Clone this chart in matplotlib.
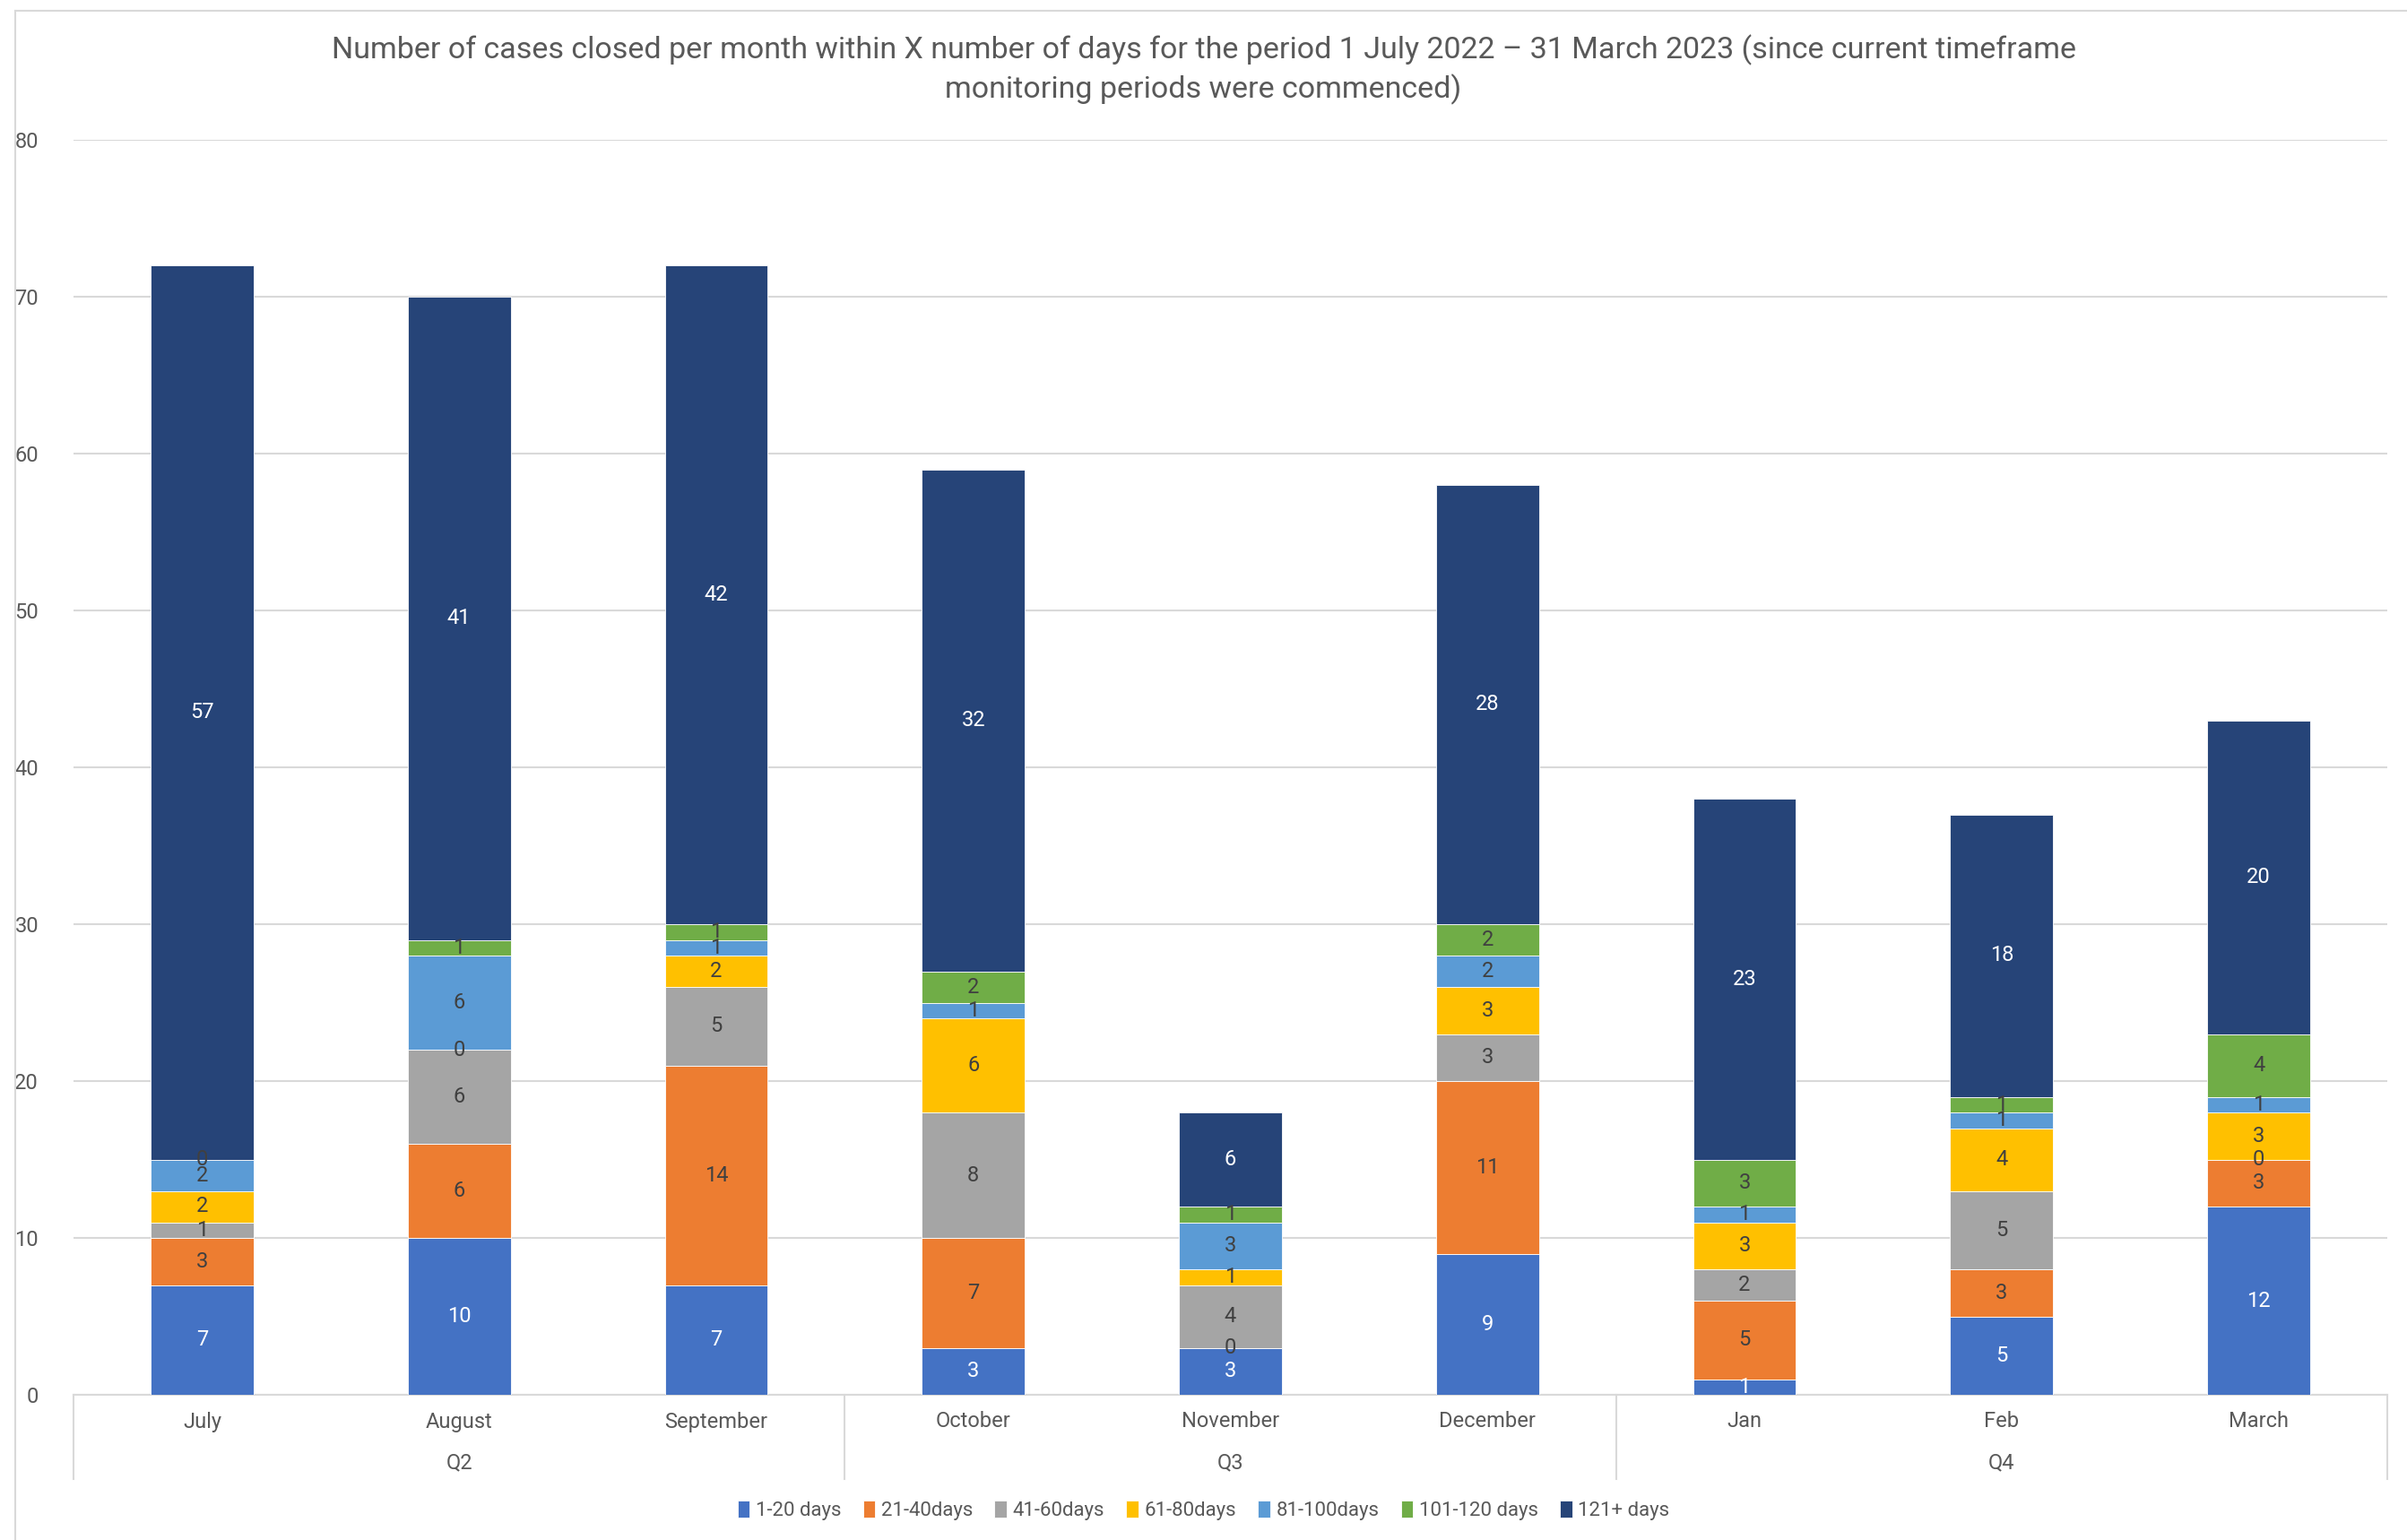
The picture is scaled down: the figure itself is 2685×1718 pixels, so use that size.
import matplotlib
matplotlib.use("Agg")
import matplotlib.pyplot as plt
import matplotlib.transforms as mtransforms
from matplotlib.lines import Line2D
import numpy as np

months = ["July", "August", "September", "October", "November", "December", "Jan", "Feb", "March"]
quarters = ["Q2", "Q3", "Q4"]
series_names = ["1-20 days", "21-40days", "41-60days", "61-80days", "81-100days", "101-120 days", "121+ days"]
d_1_20 = [7, 10, 7, 3, 3, 9, 1, 5, 12]
d_21_40 = [3, 6, 14, 7, 0, 11, 5, 3, 3]
d_41_60 = [1, 6, 5, 8, 4, 3, 2, 5, 0]
d_61_80 = [2, 0, 2, 6, 1, 3, 3, 4, 3]
d_81_100 = [2, 6, 1, 1, 3, 2, 1, 1, 1]
d_101_120 = [0, 1, 1, 2, 1, 2, 3, 1, 4]
d_121 = [57, 41, 42, 32, 6, 28, 23, 18, 20]
title = "Number of cases closed per month within X number of days for the period 1 July 2022 \u2013 31 March 2023 (since current timeframe\nmonitoring periods were commenced)"

colors = ["#4472C4", "#ED7D31", "#A5A5A5", "#FFC000", "#5B9BD5", "#70AD47", "#264478"]
label_colors = ["white", "#404040", "#404040", "#404040", "#404040", "#404040", "white"]
series = [d_1_20, d_21_40, d_41_60, d_61_80, d_81_100, d_101_120, d_121]

plt.rcParams["font.family"] = ["Roboto", "DejaVu Sans"]

W, H = 2685, 1718
fig = plt.figure(figsize=(W / 100, H / 100), dpi=100)
fig.patch.set_facecolor("white")

# outer chart border (left and top)
fig.add_artist(Line2D([17 / W, 17 / W], [0, 1 - 12 / H], transform=fig.transFigure, color="#D9D9D9", lw=1.5))
fig.add_artist(Line2D([17 / W, 1], [1 - 12 / H, 1 - 12 / H], transform=fig.transFigure, color="#D9D9D9", lw=1.5))

left, right = 82 / W, 2663 / W
top, bottom = 1 - 156 / H, 1 - 1556 / H
ax = fig.add_axes([left, bottom, right - left, top - bottom])

x = np.arange(len(months))
base = np.zeros(len(months))
for vals, col, name, lc in zip(series, colors, series_names, label_colors):
    vals = np.array(vals, dtype=float)
    ax.bar(x, vals, width=0.4, bottom=base, color=col, label=name, edgecolor="white", linewidth=0.6, zorder=3)
    for xi, b, v in zip(x, base, vals):
        ax.text(xi, b + v / 2, f"{int(v)}", ha="center", va="center", color=lc, fontsize=17, zorder=4)
    base = base + vals

ax.set_xlim(-0.5, len(months) - 0.5)
ax.set_ylim(0, 80)
ax.set_yticks(np.arange(0, 81, 10))
ax.yaxis.grid(True, color="#D9D9D9", lw=1.5, zorder=0)
ax.set_axisbelow(True)
for s in ["left", "right", "top"]:
    ax.spines[s].set_visible(False)
ax.spines["bottom"].set_color("#D9D9D9")
ax.spines["bottom"].set_linewidth(1.5)
ax.tick_params(axis="y", length=0, labelsize=17, labelcolor="#595959", pad=28)
ax.set_xticks([])

# multi-level category axis
trans = mtransforms.blended_transform_factory(ax.transData, ax.transAxes)
unit = 1 / (1556 - 156)
for xi, m in zip(x, months):
    ax.text(xi, -30 * unit, m, transform=trans, ha="center", va="center", fontsize=17, color="#595959")
for qi, q in enumerate(quarters):
    ax.text(qi * 3 + 1, -76 * unit, q, transform=trans, ha="center", va="center", fontsize=17, color="#595959")
for sep in [-0.5, 2.5, 5.5, 8.5]:
    ax.add_artist(Line2D([sep, sep], [0, -94 * unit], transform=trans, color="#D9D9D9", lw=1.5, clip_on=False))

fig.text(0.5, 1 - 78 / H, title, ha="center", va="center", fontsize=24.5, color="#595959", linespacing=1.35)

handles, labels = ax.get_legend_handles_labels()
fig.legend(handles, labels, loc="center", bbox_to_anchor=(0.5, 1 - 1685 / H), ncol=7, frameon=False,
           fontsize=16, handlelength=0.6, handleheight=0.9, handletextpad=0.3, columnspacing=1.1,
           labelcolor="#595959")

fig.savefig("out.png", dpi=100, facecolor="white")
